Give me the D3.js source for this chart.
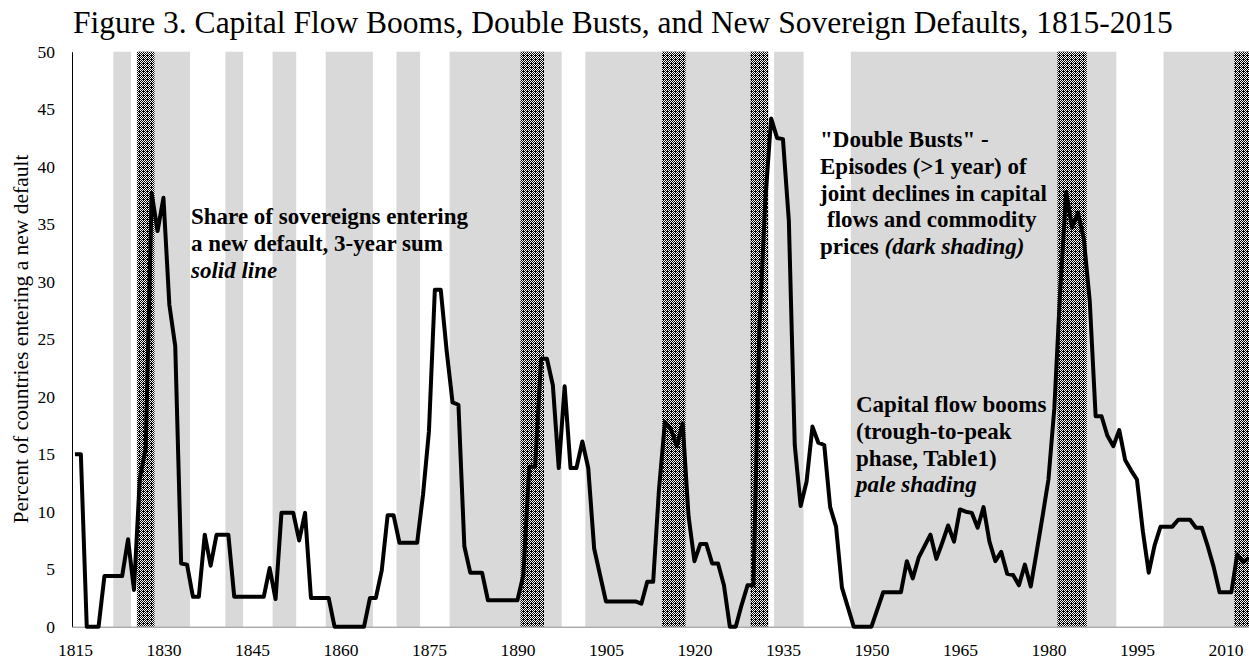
<!DOCTYPE html>
<html>
<head>
<meta charset="utf-8">
<script src="https://cdn.jsdelivr.net/npm/d3@7"></script>
<style>
  body { margin: 0; background: #fff; }
  svg { display: block; font-family: "Liberation Serif", "Times New Roman", serif; }
</style>
</head>
<body>
<svg id="chart" width="1249" height="659"></svg>
<script>
// years are categories, one point per year
var firstYear = 1815;
var lastYear = 2014;

// share of sovereigns entering a new default, 3-year sum
var defaults = [
  15, 15, 0, 0, 0, 4.4, 4.4, 4.4, 4.4, 7.6,          // 1815-1824
  3.2, 12.9, 15.5, 37.7, 34.4, 37.3, 28, 24.4, 5.5, 5.4, // 1825-1834
  2.6, 2.6, 8.0, 5.3, 8.0, 8.0, 8.0, 2.6, 2.6, 2.6,   // 1835-1844
  2.6, 2.6, 2.6, 5.1, 2.4, 9.9, 9.9, 9.9, 7.5, 9.9,   // 1845-1854
  2.5, 2.5, 2.5, 2.5, 0, 0, 0, 0, 0, 0,               // 1855-1864
  2.5, 2.5, 4.9, 9.7, 9.7, 7.3, 7.3, 7.3, 7.3, 11.5,  // 1865-1874
  17, 29.3, 29.3, 24, 19.5, 19.3, 7.0, 4.7, 4.7, 4.7, // 1875-1884
  2.3, 2.3, 2.3, 2.3, 2.3, 2.3, 4.5, 13.9, 13.9, 23.3, // 1885-1894
  23.3, 21, 13.8, 20.9, 13.8, 13.8, 16.1, 13.8, 6.8, 4.5, // 1895-1904
  2.2, 2.2, 2.2, 2.2, 2.2, 2.2, 2.0, 3.9, 3.9, 12,    // 1905-1914
  17.8, 17.2, 15.7, 17.7, 9.6, 5.7, 7.2, 7.2, 5.5, 5.5, // 1915-1924
  3.6, 0, 0, 1.9, 3.6, 3.6, 26, 37, 44.2, 42.5,       // 1925-1934
  42.4, 35.3, 15.8, 10.5, 12.6, 17.4, 16, 15.8, 10.4, 8.7, // 1935-1944
  3.4, 1.7, 0, 0, 0, 0, 1.5, 3.0, 3.0, 3.0,           // 1945-1954
  3.0, 5.7, 4.2, 6.0, 7.0, 8.0, 5.9, 7.3, 8.8, 7.4,   // 1955-1964
  10.2, 10.0, 9.9, 8.6, 10.4, 7.4, 5.7, 6.5, 4.6, 4.5, // 1965-1974
  3.6, 5.4, 3.5, 6.5, 9.6, 12.8, 19, 29.3, 37.8, 34.7, // 1975-1984
  36, 33.7, 28.3, 18.3, 18.3, 16.6, 15.7, 17.1, 14.5, 13.6, // 1985-1994
  12.8, 8.3, 4.7, 7.1, 8.7, 8.7, 8.7, 9.3, 9.3, 9.3,  // 1995-2004
  8.6, 8.6, 7.0, 5.2, 3.0, 3.0, 3.0, 6.3, 5.6, 6.0    // 2005-2014
];

// capital flow booms (pale shading), first and last year
var boomStart = [1822, 1829, 1841, 1849, 1858, 1870, 1879, 1902, 1934, 1947, 2000];
var boomEnd   = [1824, 1834, 1843, 1852, 1865, 1873, 1897, 1932, 1938, 1991, 2014];

// double busts (dark shading), first and last year
var bustStart = [1826, 1891, 1915, 1930, 1982, 2012];
var bustEnd   = [1828, 1894, 1918, 1932, 1986, 2014];

var xTicks = [1815, 1830, 1845, 1860, 1875, 1890, 1905, 1920, 1935, 1950, 1965, 1980, 1995, 2010];
var yTicks = [0, 5, 10, 15, 20, 25, 30, 35, 40, 45, 50];

var years = d3.range(firstYear, lastYear + 1);
var series = years.map(function (y, i) { return { year: y, v: defaults[i] }; });

var svg = d3.select('#chart');
var plotLeft = 72, plotTop = 51.7, plotBottom = 626.7, step = 5.9;

var x = d3.scaleLinear()
  .domain([firstYear - 0.5, lastYear + 0.5])
  .range([plotLeft, plotLeft + step * (lastYear - firstYear + 1)]);
var y = d3.scaleLinear().domain([0, 50]).range([plotBottom, plotTop]);

// hatch for the dark bands (black with a grid of white dots)
var defs = svg.append('defs');
var pat = defs.append('pattern')
  .attr('id', 'dark')
  .attr('width', 4).attr('height', 4)
  .attr('patternUnits', 'userSpaceOnUse');
pat.append('rect').attr('width', 4).attr('height', 4).attr('fill', '#000');
[[0, 0], [2, 0], [1, 1], [3, 1], [0, 2], [2, 2], [1, 3]].forEach(function (p) {
  pat.append('rect').attr('x', p[0]).attr('y', p[1])
    .attr('width', 1).attr('height', 1).attr('fill', '#fff');
});

svg.append('g').selectAll('rect')
  .data(boomStart)
  .enter().append('rect')
  .attr('x', function (d) { return x(d - 0.5); })
  .attr('width', function (d, i) { return x(boomEnd[i] + 0.5) - x(d - 0.5); })
  .attr('y', y(50))
  .attr('height', y(0) - y(50))
  .attr('fill', '#d9d9d9');

svg.append('g').selectAll('rect')
  .data(bustStart)
  .enter().append('rect')
  .attr('x', function (d) { return x(d - 0.5); })
  .attr('width', function (d, i) { return x(bustEnd[i] + 0.5) - x(d - 0.5); })
  .attr('y', y(50))
  .attr('height', y(0) - y(50))
  .attr('fill', 'url(#dark)');

// axes
var yAxis = svg.append('g')
  .attr('transform', 'translate(' + plotLeft + ',0)')
  .call(d3.axisLeft(y).tickValues(yTicks).tickSize(0).tickPadding(17));
yAxis.select('.domain').attr('stroke', '#000');
yAxis.selectAll('text').attr('font-size', '17.5px').attr('fill', '#000')
  .attr('font-family', '"Liberation Serif", serif');

var xAxis = svg.append('g')
  .attr('transform', 'translate(0,' + plotBottom + ')')
  .call(d3.axisBottom(x).tickValues(xTicks).tickSize(0).tickPadding(17).tickFormat(d3.format('d')));
xAxis.select('.domain').attr('stroke', '#868686');
xAxis.selectAll('text').attr('font-size', '17.5px').attr('fill', '#000')
  .attr('font-family', '"Liberation Serif", serif');

// the default line
var line = d3.line()
  .x(function (d) { return x(d.year); })
  .y(function (d) { return y(d.v); });

svg.append('path')
  .datum(series)
  .attr('d', line)
  .attr('fill', 'none')
  .attr('stroke', '#000')
  .attr('stroke-width', 4)
  .attr('stroke-linejoin', 'round');

// titles
svg.append('text')
  .attr('x', 73).attr('y', 33)
  .attr('font-size', '31.5px')
  .text('Figure 3. Capital Flow Booms, Double Busts, and New Sovereign Defaults, 1815-2015');

svg.append('text')
  .attr('transform', 'translate(28,339) rotate(-90)')
  .attr('text-anchor', 'middle')
  .attr('font-size', '21.5px')
  .text('Percent of countries entering a new default');

// annotations
function note(x0, y0, lines) {
  var t = svg.append('text').attr('font-size', '23px').attr('font-weight', 'bold');
  lines.forEach(function (ln, i) {
    var row = t.append('tspan').attr('x', x0 + (ln.dx || 0)).attr('y', y0 + i * 26.8);
    ln.parts.forEach(function (p) {
      row.append('tspan').attr('font-style', p[1] ? 'italic' : null).text(p[0]);
    });
  });
}

note(191, 224, [
  { parts: [['Share of sovereigns entering']] },
  { parts: [['a new default, 3-year sum']] },
  { parts: [['solid line', true]] }
]);

note(820, 147, [
  { parts: [['"Double Busts" -']] },
  { parts: [['Episodes (>1 year) of']] },
  { parts: [['joint declines in capital']] },
  { parts: [['flows and commodity']], dx: 7 },
  { parts: [['prices '], ['(dark shading)', true]] }
]);

note(856, 412, [
  { parts: [['Capital flow booms']] },
  { parts: [['(trough-to-peak']] },
  { parts: [['phase, Table1)']] },
  { parts: [['pale shading', true]] }
]);
</script>
</body>
</html>
